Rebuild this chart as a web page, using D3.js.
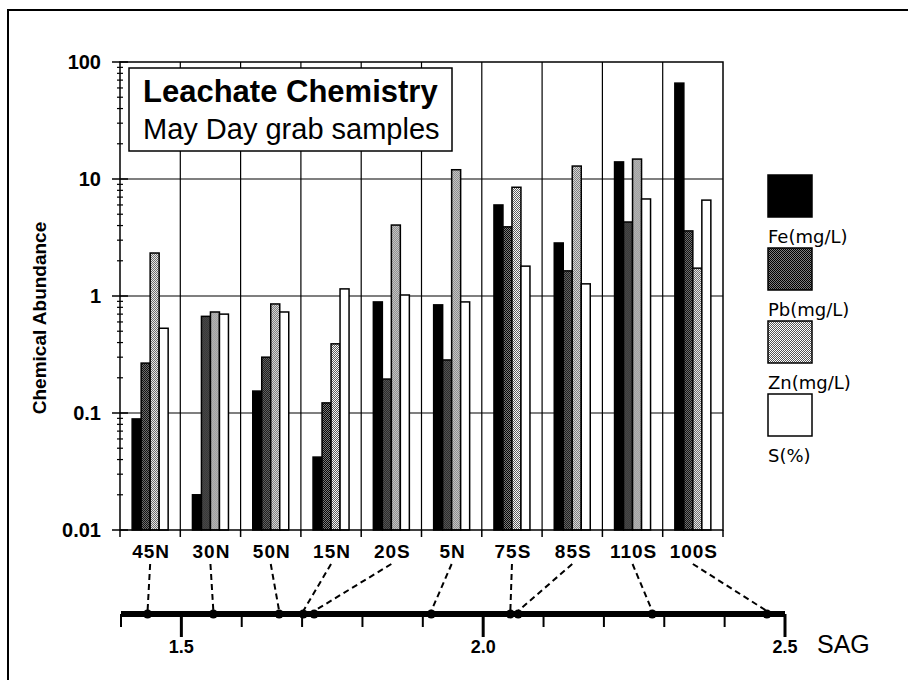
<!DOCTYPE html>
<html lang="en">
<head>
<meta charset="utf-8">
<script src="https://d3js.org/d3.v7.min.js"></script>
<style>
  body { margin: 0; background: #fff; }
  svg text { font-family: "Liberation Sans", Arial, sans-serif; fill: #000; }
</style>
</head>
<body>
<script>
// sample sites, left to right
const categories = ["45N", "30N", "50N", "15N", "20S", "5N", "75S", "85S", "110S", "100S"];
const seriesNames = ["Fe(mg/L)", "Pb(mg/L)", "Zn(mg/L)", "S(%)"];
// values
const feVals = [0.089, 0.020, 0.154, 0.042, 0.89, 0.84, 6.0, 2.84, 14.0, 66];
const pbVals = [0.267, 0.67, 0.30, 0.122, 0.195, 0.284, 3.9, 1.64, 4.29, 3.6];
const znVals = [2.33, 0.73, 0.855, 0.39, 4.04, 12.0, 8.5, 12.9, 14.8, 1.73];
const sVals  = [0.53, 0.70, 0.73, 1.15, 1.02, 0.89, 1.8, 1.27, 6.75, 6.6];
// SAG position of each site on the lower scale
const sagVals = [1.444, 1.553, 1.662, 1.702, 1.720, 1.914, 2.045, 2.058, 2.28, 2.47];
const yTickVals = [0.01, 0.1, 1, 10, 100];
const yTickLabels = ["0.01", "0.1", "1", "10", "100"];
const sagMajor = [1.5, 2.0, 2.5];
const sagMajorLabels = ["1.5", "2.0", "2.5"];
const sagMinor = [1.4, 1.6, 1.7, 1.8, 1.9, 2.1, 2.2, 2.3, 2.4];

const allSeries = [feVals, pbVals, znVals, sVals];

const width = 908, height = 680;
const plot = {left: 120, right: 723, top: 62, bottom: 530};

const svg = d3.select("body").append("svg")
  .attr("width", width).attr("height", height);

// fills
const defs = svg.append("defs");
function checker(id, dark, light) {
  const p = defs.append("pattern").attr("id", id)
    .attr("width", 2).attr("height", 2).attr("patternUnits", "userSpaceOnUse");
  p.append("rect").attr("width", 2).attr("height", 2).attr("fill", light);
  p.append("rect").attr("width", 1).attr("height", 1).attr("fill", dark);
  p.append("rect").attr("x", 1).attr("y", 1).attr("width", 1).attr("height", 1).attr("fill", dark);
}
checker("pbFill", "#000", "#808080");
checker("znFill", "#555", "#fff");
const fills = ["#000", "url(#pbFill)", "url(#znFill)", "#fff"];

// outer frame (partly cropped in the scan)
svg.append("path").attr("d", "M8,680V10H908")
  .attr("fill", "none").attr("stroke", "#000").attr("stroke-width", 2);

const x0 = d3.scaleBand().domain(categories).range([plot.left, plot.right]).padding(0);
const groupW = 36;
const x1 = d3.scaleBand().domain(seriesNames).range([0, groupW]);
const y = d3.scaleLog().domain([0.01, 100]).range([plot.bottom, plot.top]);

// grid
const grid = svg.append("g").attr("stroke", "#000").attr("stroke-width", 1.2);
grid.selectAll("line.h").data(yTickVals.slice(1, -1)).join("line")
  .attr("x1", plot.left).attr("x2", plot.right)
  .attr("y1", d => y(d)).attr("y2", d => y(d));
grid.selectAll("line.v").data(categories.slice(1)).join("line")
  .attr("x1", d => x0(d)).attr("x2", d => x0(d))
  .attr("y1", plot.top).attr("y2", plot.bottom);

// bars
const groups = svg.append("g").selectAll("g").data(categories).join("g")
  .attr("transform", d => `translate(${x0(d) + (x0.bandwidth() - groupW) / 2},0)`);
groups.selectAll("rect")
  .data((c, i) => seriesNames.map((s, j) => ({s, j, v: allSeries[j][i]})))
  .join("rect")
  .attr("x", d => x1(d.s))
  .attr("y", d => y(d.v))
  .attr("width", x1.bandwidth())
  .attr("height", d => y(0.01) - y(d.v))
  .attr("fill", d => fills[d.j])
  .attr("stroke", "#000").attr("stroke-width", 1.5);

// plot frame
svg.append("rect").attr("x", plot.left).attr("y", plot.top)
  .attr("width", plot.right - plot.left).attr("height", plot.bottom - plot.top)
  .attr("fill", "none").attr("stroke", "#000").attr("stroke-width", 1.5);

// y axis ticks: majors cross the axis, minors short
const minorY = [];
for (let e = -2; e < 2; e++) for (let k = 2; k <= 9; k++) minorY.push(k * Math.pow(10, e));
svg.append("g").selectAll("line").data(minorY).join("line")
  .attr("x1", plot.left - 3).attr("x2", plot.left + 3)
  .attr("y1", d => y(d)).attr("y2", d => y(d))
  .attr("stroke", "#000").attr("stroke-width", 1.2);
svg.append("g").selectAll("line").data(yTickVals).join("line")
  .attr("x1", plot.left - 8).attr("x2", plot.left + 8)
  .attr("y1", d => y(d)).attr("y2", d => y(d))
  .attr("stroke", "#000").attr("stroke-width", 1.5);
svg.append("g").selectAll("text").data(yTickVals).join("text")
  .attr("x", plot.left - 19).attr("y", d => y(d) + 7)
  .attr("text-anchor", "end").attr("font-size", 20).attr("font-weight", "bold")
  .text((d, i) => yTickLabels[i]);

svg.append("text")
  .attr("transform", `translate(46,${(plot.top + plot.bottom) / 2 + 22}) rotate(-90)`)
  .attr("text-anchor", "middle").attr("font-size", 19).attr("font-weight", "bold")
  .text("Chemical Abundance");

// x ticks + category labels
svg.append("g").selectAll("line").data(d3.range(categories.length + 1)).join("line")
  .attr("x1", i => plot.left + i * x0.bandwidth()).attr("x2", i => plot.left + i * x0.bandwidth())
  .attr("y1", plot.bottom).attr("y2", plot.bottom + 7)
  .attr("stroke", "#000").attr("stroke-width", 1.5);
svg.append("g").selectAll("text").data(categories).join("text")
  .attr("x", d => x0(d) + x0.bandwidth() / 2 + 1).attr("y", 558)
  .attr("text-anchor", "middle").attr("font-size", 19).attr("font-weight", "bold")
  .attr("letter-spacing", 1)
  .text(d => d);

// title box
svg.append("rect").attr("x", 129).attr("y", 68).attr("width", 323).attr("height", 83)
  .attr("fill", "#fff").attr("stroke", "#000").attr("stroke-width", 1.5);
svg.append("text").attr("x", 143).attr("y", 102)
  .attr("font-size", 31).attr("font-weight", "bold").text("Leachate Chemistry");
svg.append("text").attr("x", 143).attr("y", 139)
  .attr("font-size", 29).text("May Day grab samples");

// legend: swatch above its label
const leg = svg.append("g").attr("transform", "translate(768,175)");
const legItem = leg.selectAll("g").data(seriesNames).join("g")
  .attr("transform", (d, i) => `translate(0,${i * 73})`);
legItem.append("rect").attr("width", 44).attr("height", 42)
  .attr("fill", (d, i) => fills[i]).attr("stroke", "#000").attr("stroke-width", 1.5);
legItem.append("text").attr("y", 68)
  .style("font-family", "'DejaVu Sans', Verdana, sans-serif")
  .attr("font-size", 18).text(d => d);

// SAG scale underneath
const sx = d3.scaleLinear().domain([1.4, 2.5]).range([121, 785]);
const sagY = 614;
svg.append("line").attr("x1", sx(1.4)).attr("x2", sx(2.5))
  .attr("y1", sagY).attr("y2", sagY)
  .attr("stroke", "#000").attr("stroke-width", 6);
svg.append("g").selectAll("line").data(sagMinor).join("line")
  .attr("x1", d => sx(d)).attr("x2", d => sx(d))
  .attr("y1", sagY).attr("y2", sagY + 13)
  .attr("stroke", "#000").attr("stroke-width", 2);
svg.append("g").selectAll("line").data(sagMajor).join("line")
  .attr("x1", d => sx(d)).attr("x2", d => sx(d))
  .attr("y1", sagY).attr("y2", sagY + 23)
  .attr("stroke", "#000").attr("stroke-width", 3);
svg.append("g").selectAll("text").data(sagMajor).join("text")
  .attr("x", d => sx(d)).attr("y", 653)
  .attr("text-anchor", "middle").attr("font-size", 18).attr("font-weight", "bold")
  .text((d, i) => sagMajorLabels[i]);
svg.append("text").attr("x", 817).attr("y", 653).attr("font-size", 25).text("SAG");

// dashed leaders from each site label to its SAG position
svg.append("g").selectAll("line").data(categories).join("line")
  .attr("x1", d => x0(d) + x0.bandwidth() / 2).attr("y1", 564)
  .attr("x2", (d, i) => sx(sagVals[i])).attr("y2", sagY - 3)
  .attr("stroke", "#000").attr("stroke-width", 2).attr("stroke-dasharray", "6,4");
svg.append("g").selectAll("circle").data(sagVals).join("circle")
  .attr("cx", d => sx(d)).attr("cy", sagY).attr("r", 4.5).attr("fill", "#000");
</script>
</body>
</html>
